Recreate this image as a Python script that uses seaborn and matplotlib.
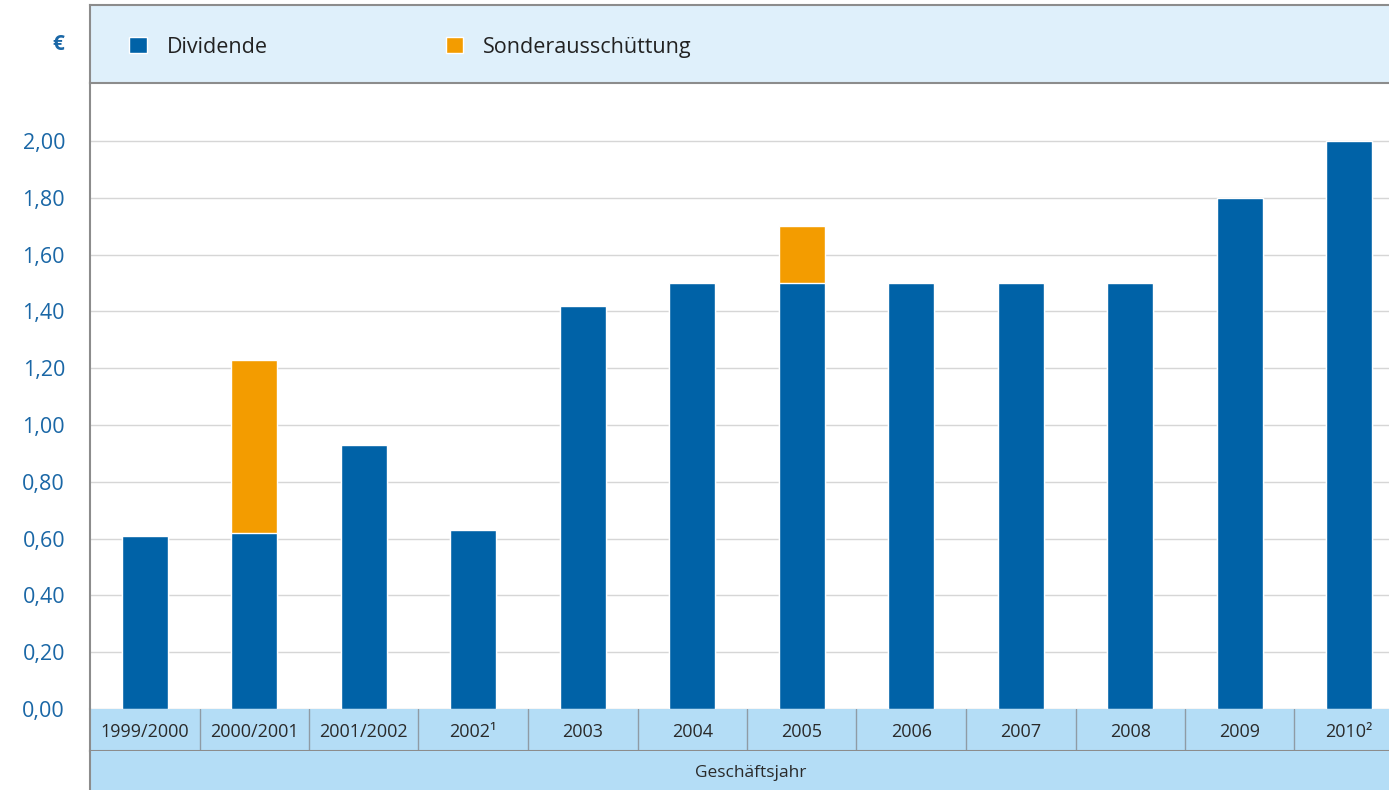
import pandas as pd
import matplotlib.pyplot as plt
import seaborn as sns

# Dividend per share (EUR) by fiscal year
years = ["1999/2000", "2000/2001", "2001/2002", "2002\u00b9", "2003", "2004",
         "2005", "2006", "2007", "2008", "2009", "2010\u00b2"]
dividende = [0.61, 0.62, 0.93, 0.63, 1.42, 1.50, 1.50, 1.50, 1.50, 1.50, 1.80, 2.00]
sonder = [0.00, 0.61, 0.00, 0.00, 0.00, 0.00, 0.20, 0.00, 0.00, 0.00, 0.00, 0.00]
y_ticks = [0.0, 0.2, 0.4, 0.6, 0.8, 1.0, 1.2, 1.4, 1.6, 1.8, 2.0]

BLUE = "#0062a7"
ORANGE = "#f39c00"
HEADER = "#dff0fb"
BAND = "#b4ddf6"
FRAME = "#8c8c8c"
TICK = "#1a67a6"

sns.set_theme(style="white")
plt.rcParams["font.family"] = ["Open Sans", "DejaVu Sans"]

df = pd.DataFrame({"Jahr": years, "Dividende": dividende, "Sonder": sonder})
df["Gesamt"] = df["Dividende"] + df["Sonder"]

W, H = 1389, 790
fig = plt.figure(figsize=(W / 100, H / 100), dpi=100)


def fy(px):
    return 1 - px / H


left = 90 / W
xlim = (-0.5, -0.5 + (W - 90) / 109.5)

# main plot area
ax = fig.add_axes([left, fy(709), 1 - left, fy(83) - fy(709)])
sns.barplot(data=df, x="Jahr", y="Gesamt", color=ORANGE, width=0.42,
            saturation=1, ax=ax, label="Sonderausschüttung")
sns.barplot(data=df, x="Jahr", y="Dividende", color=BLUE, width=0.42,
            saturation=1, ax=ax, label="Dividende", edgecolor="white", linewidth=1)
handles, labels = ax.get_legend_handles_labels()
if ax.get_legend() is not None:
    ax.get_legend().remove()
ax.set_xlim(*xlim)
ax.set_ylim(0, (709 - 83) / 284)
ax.set_yticks(y_ticks)
ax.set_yticklabels([f"{v:.2f}".replace(".", ",") for v in y_ticks],
                   color=TICK, fontsize=15.5)
ax.tick_params(axis="y", length=0, pad=18)
ax.set_xticks([])
ax.set_xlabel("")
ax.set_ylabel("")
ax.yaxis.grid(True, color="#d6d6d6", linewidth=1)
ax.set_axisbelow(True)
for s in ["top", "right", "bottom"]:
    ax.spines[s].set_visible(False)
ax.spines["left"].set_color(FRAME)
ax.spines["left"].set_linewidth(1.5)

# header band with legend
hx = fig.add_axes([left, fy(83), 1 - left, fy(5) - fy(83)])
hx.set_facecolor(HEADER)
hx.set_xticks([])
hx.set_yticks([])
hx.spines["right"].set_visible(False)
for s in ["top", "left", "bottom"]:
    hx.spines[s].set_visible(True)
    hx.spines[s].set_color(FRAME)
    hx.spines[s].set_linewidth(1.5)
fig.text(58 / W, fy(45), "\u20ac", color=TICK, fontsize=15, fontweight="bold",
         ha="center", va="center")
order = [labels.index("Dividende"), labels.index("Sonderausschüttung")]
hx.legend([handles[i] for i in order], [labels[i] for i in order],
          loc="center left", bbox_to_anchor=(20 / (W - 90), 0.46), ncol=2,
          frameon=False, fontsize=15.5, handlelength=0.8, handleheight=0.8,
          handletextpad=0.95, columnspacing=8.25, labelcolor="#222222")

# category band
bx = fig.add_axes([left, fy(751), 1 - left, fy(709) - fy(751)])
bx.set_facecolor(BAND)
bx.set_xlim(*xlim)
bx.set_ylim(0, 1)
bx.set_xticks([])
bx.set_yticks([])
for i, lab in enumerate(years):
    bx.text(i, 0.45, lab, ha="center", va="center", fontsize=13, color="#2a2a2a")
    bx.axvline(i + 0.5, color="#8f9ba5", linewidth=1)
for s in ["top", "right"]:
    bx.spines[s].set_visible(False)
for s in ["left", "bottom"]:
    bx.spines[s].set_color(FRAME)
    bx.spines[s].set_linewidth(1.5)

# axis title band
gx = fig.add_axes([left, 0, 1 - left, fy(751)])
gx.set_facecolor(BAND)
gx.set_xticks([])
gx.set_yticks([])
for s in ["top", "right", "bottom"]:
    gx.spines[s].set_visible(False)
gx.spines["left"].set_color(FRAME)
gx.spines["left"].set_linewidth(1.5)
fig.text(751 / W, fy(773), "Geschäftsjahr", ha="center", va="center",
         fontsize=12.5, color="#2a2a2a")

fig.savefig("out.png", dpi=100)
